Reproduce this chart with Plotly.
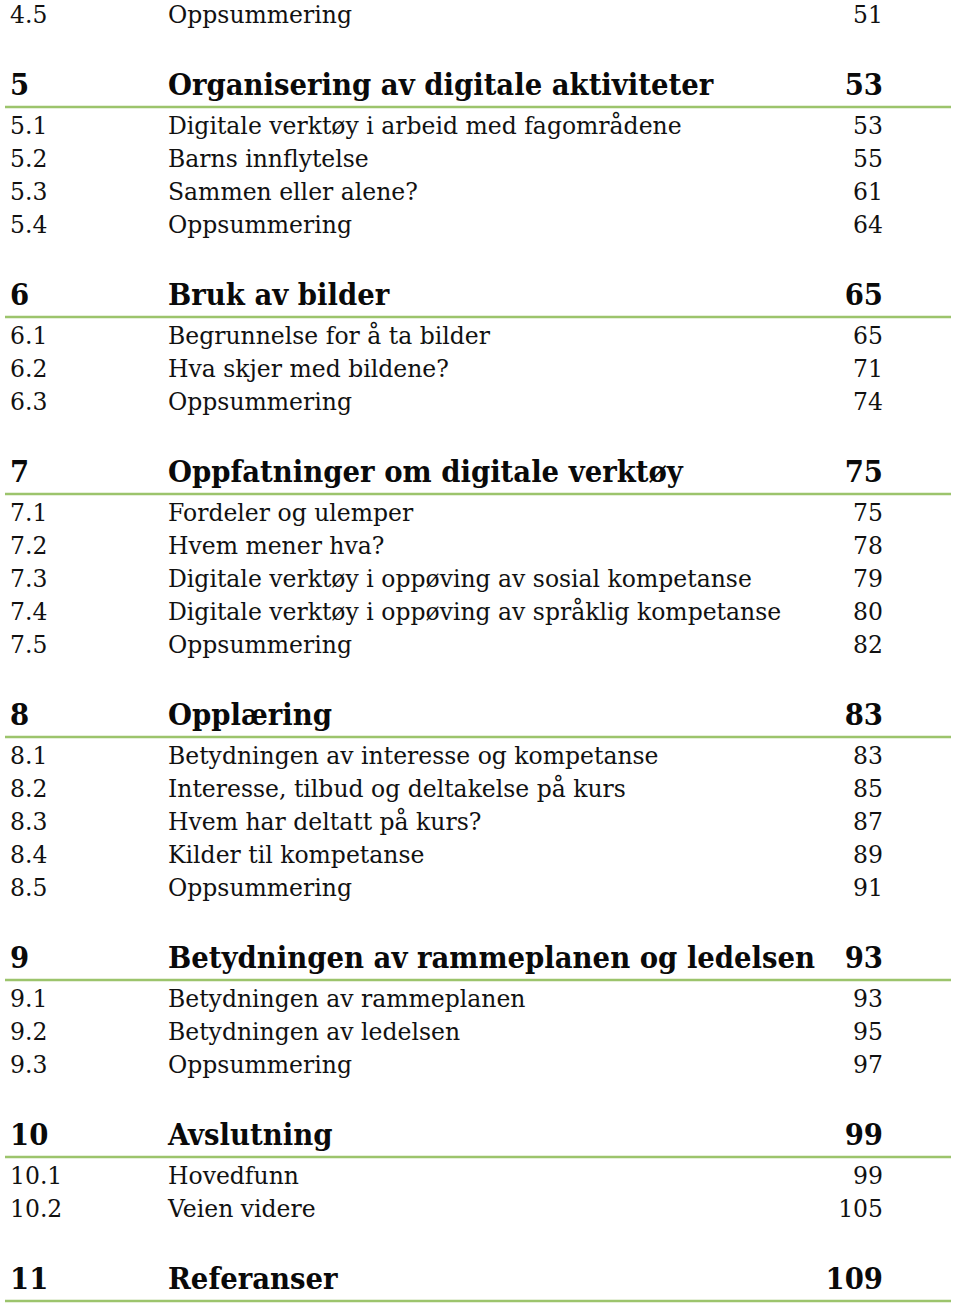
import plotly.graph_objects as go

# Table of contents data
chapter_nums = ["5", "6", "7", "8", "9", "10", "11"]
chapter_titles = [
    "Organisering av digitale aktiviteter",
    "Bruk av bilder",
    "Oppfatninger om digitale verktøy",
    "Opplæring",
    "Betydningen av rammeplanen og ledelsen",
    "Avslutning",
    "Referanser",
]
chapter_pages = ["53", "65", "75", "83", "93", "99", "109"]

section_nums = [
    ["5.1", "5.2", "5.3", "5.4"],
    ["6.1", "6.2", "6.3"],
    ["7.1", "7.2", "7.3", "7.4", "7.5"],
    ["8.1", "8.2", "8.3", "8.4", "8.5"],
    ["9.1", "9.2", "9.3"],
    ["10.1", "10.2"],
    [],
]
section_titles = [
    ["Digitale verktøy i arbeid med fagområdene", "Barns innflytelse", "Sammen eller alene?", "Oppsummering"],
    ["Begrunnelse for å ta bilder", "Hva skjer med bildene?", "Oppsummering"],
    ["Fordeler og ulemper", "Hvem mener hva?", "Digitale verktøy i oppøving av sosial kompetanse",
     "Digitale verktøy i oppøving av språklig kompetanse", "Oppsummering"],
    ["Betydningen av interesse og kompetanse", "Interesse, tilbud og deltakelse på kurs",
     "Hvem har deltatt på kurs?", "Kilder til kompetanse", "Oppsummering"],
    ["Betydningen av rammeplanen", "Betydningen av ledelsen", "Oppsummering"],
    ["Hovedfunn", "Veien videre"],
    [],
]
section_pages = [
    ["53", "55", "61", "64"],
    ["65", "71", "74"],
    ["75", "78", "79", "80", "82"],
    ["83", "85", "87", "89", "91"],
    ["93", "95", "97"],
    ["99", "105"],
    [],
]
lead_num, lead_title, lead_page = "4.5", "Oppsummering", "51"

# layout (pixels, page coordinates)
W, H = 960, 1304
X_NUM, X_TITLE, X_PAGE = 10, 168, 883
LINE_X0, LINE_X1 = 5, 951
ROW, GAP_HEAD, HEAD_TO_SUB, HEAD_TO_LINE = 33, 70, 41, 22
TEXT_DY = 2
SERIF = "DejaVu Serif"
HEAD_SERIF = "DejaVu Serif Condensed, DejaVu Serif"
GREEN = "#9cc46c"
SUB_SIZE, HEAD_SIZE = 23.5, 30.6

sub_y, sub_n, sub_t, sub_p = [], [], [], []
head_y, line_y = [], []
y = 15
sub_y.append(y); sub_n.append(lead_num); sub_t.append(lead_title); sub_p.append(lead_page)
for i in range(len(chapter_nums)):
    y += GAP_HEAD
    head_y.append(y)
    line_y.append(y + HEAD_TO_LINE)
    for j in range(len(section_nums[i])):
        y = head_y[-1] + HEAD_TO_SUB + j * ROW
        sub_y.append(y)
        sub_n.append(section_nums[i][j]); sub_t.append(section_titles[i][j]); sub_p.append(section_pages[i][j])
    if not section_nums[i]:
        y = head_y[-1]

sub_yt = [v + TEXT_DY for v in sub_y]
head_yt = [v + TEXT_DY for v in head_y]

fig = go.Figure()

for ly in line_y:
    fig.add_trace(go.Scatter(x=[LINE_X0, LINE_X1], y=[ly, ly], mode="lines",
                             line=dict(color=GREEN, width=2.5), hoverinfo="skip", showlegend=False))

sub_font = dict(family=SERIF, size=SUB_SIZE, color="#111111")
head_font = dict(family=HEAD_SERIF, size=HEAD_SIZE, color="#0a0a0a")


def text_trace(xv, yv, txt, pos, font):
    return go.Scatter(x=[xv] * len(yv), y=yv, text=txt, mode="text", textposition=pos,
                      textfont=font, cliponaxis=False, hoverinfo="skip", showlegend=False)


fig.add_trace(text_trace(X_NUM, sub_yt, sub_n, "middle right", sub_font))
fig.add_trace(text_trace(X_TITLE, sub_yt, sub_t, "middle right", sub_font))
fig.add_trace(text_trace(X_PAGE, sub_yt, sub_p, "middle left", sub_font))

bold = lambda arr: ["<b>" + s + "</b>" for s in arr]
fig.add_trace(text_trace(X_NUM, head_yt, bold(chapter_nums), "middle right", head_font))
fig.add_trace(text_trace(X_TITLE, head_yt, bold(chapter_titles), "middle right", head_font))
fig.add_trace(text_trace(X_PAGE, head_yt, bold(chapter_pages), "middle left", head_font))

fig.update_layout(
    width=W, height=H, margin=dict(l=0, r=0, t=0, b=0),
    paper_bgcolor="white", plot_bgcolor="white",
    xaxis=dict(range=[0, W], visible=False, fixedrange=True),
    yaxis=dict(range=[H, 0], visible=False, fixedrange=True),
    showlegend=False,
)
fig.write_html(
    "out.html",
    config={"displayModeBar": False},
    post_script="document.body.style.margin='0';document.body.style.overflow='hidden';",
)
